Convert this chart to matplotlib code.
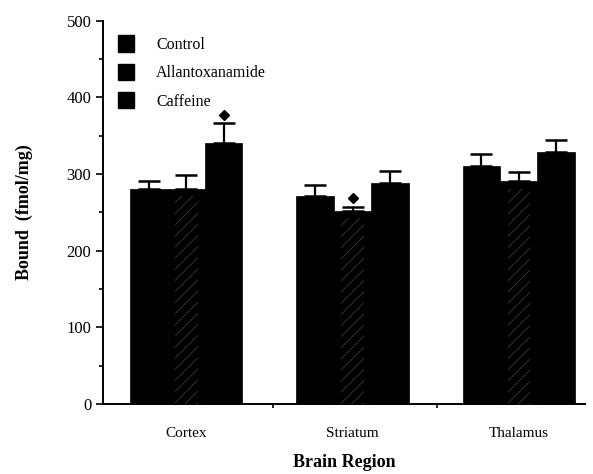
import matplotlib
matplotlib.use("Agg")
import matplotlib.pyplot as plt
import numpy as np
from matplotlib.patches import Patch

regions = ["Cortex", "Striatum", "Thalamus"]
series = ["Control", "Allantoxanamide", "Caffeine"]
control = [281, 272, 311]
allanto = [281, 252, 291]
caffeine = [341, 288, 329]
control_err = [10, 14, 15]
allanto_err = [18, 5, 12]
caffeine_err = [26, 16, 16]
sig_marks = [(0, 2, 377), (1, 1, 269)]  # (group, series, y)
yticks = [0, 100, 200, 300, 400, 500]

plt.rcParams['font.family'] = ['Liberation Serif', 'DejaVu Serif']
plt.rcParams['hatch.linewidth'] = 0.6

fig = plt.figure(figsize=(5.93, 4.74), dpi=100)
ax = fig.add_axes([0.174, 0.148, 0.813, 0.808])

x = np.arange(len(regions))
w = 0.225
vals = [control, allanto, caffeine]
errs = [control_err, allanto_err, caffeine_err]
for i, (v, e) in enumerate(zip(vals, errs)):
    pos = x + (i - 1) * w
    ax.bar(pos, v, width=w, color='black', edgecolor='black', linewidth=0.5, zorder=2)
    if i == 1:
        ax.bar(pos, np.array(v) - 10, width=w * 0.6, facecolor='none', edgecolor='#3a3a3a',
               hatch='///', linewidth=0, zorder=3)
    ax.errorbar(pos, v, yerr=[np.zeros(len(v)), e], fmt='none', ecolor='black',
                elinewidth=1.6, capsize=8, capthick=1.8, zorder=4)

for g, s, yv in sig_marks:
    ax.plot(g + (s - 1) * w, yv, marker='D', color='black', markersize=5.5, zorder=5)

ax.set_ylim(0, 500)
ax.set_xlim(-0.5, 2.4)
ax.set_yticks(yticks)
ax.set_yticks(np.arange(50, 500, 100), minor=True)
ax.tick_params(axis='y', which='major', direction='out', length=5, width=1.2, labelsize=12)
ax.tick_params(axis='y', which='minor', direction='out', length=3, width=1.2)
ax.set_xticks(x)
ax.set_xticklabels(regions, fontsize=11)
ax.set_xticks([0.52, 1.51], minor=True)
ax.tick_params(axis='x', which='major', length=0, pad=17)
ax.tick_params(axis='x', which='minor', direction='out', length=3, width=1.2)
for sp in ['top', 'right']:
    ax.spines[sp].set_visible(False)
ax.spines['left'].set_linewidth(1.4)
ax.spines['bottom'].set_linewidth(1.4)

ax.set_ylabel("Bound  (fmol/mg)", fontsize=13, fontweight='bold', labelpad=24)
ax.set_xlabel("Brain Region", fontsize=13, fontweight='bold', labelpad=10)

handles = [Patch(facecolor='black', edgecolor='black') for _ in series]
leg = ax.legend(handles, series, loc='upper left', bbox_to_anchor=(0.0, 1.0),
                frameon=False, fontsize=11.5, handlelength=1.0, handleheight=1.2,
                handletextpad=1.4, labelspacing=0.68, borderaxespad=0.5)

fig.savefig("out.png", dpi=100)
